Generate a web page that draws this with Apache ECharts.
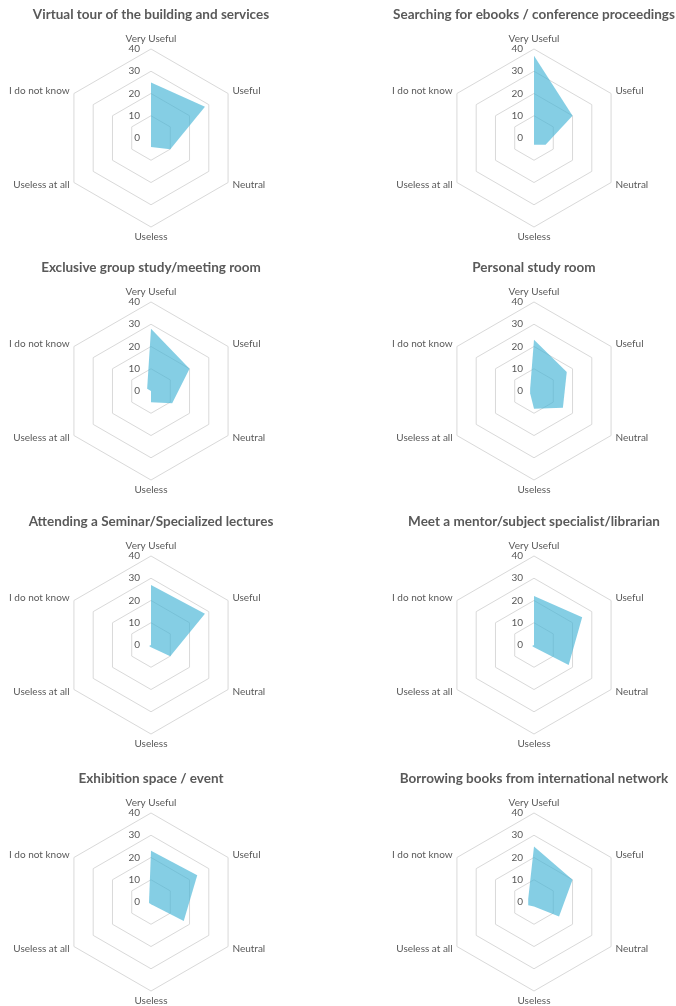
<!DOCTYPE html>
<html><head><meta charset="utf-8">
<script src="https://cdn.jsdelivr.net/npm/echarts@6/dist/echarts.min.js"></script>
<style>html,body{margin:0;padding:0;background:#fff}#c{width:676px;height:1006px}</style>
</head><body><div id="c"></div>
<script>
// Indicator categories, listed clockwise from the top
const categories = ['Very Useful', 'Useful', 'Neutral', 'Useless', 'Useless at all', 'I do not know'];
const tickValues = [0, 10, 20, 30, 40];

const chartTitles = [
  'Virtual tour of the building and services',
  'Searching for ebooks / conference proceedings',
  'Exclusive group study/meeting room',
  'Personal study room',
  'Attending a Seminar/Specialized lectures',
  'Meet a mentor/subject specialist/librarian',
  'Exhibition space / event',
  'Borrowing books from international network'
];

// values in category order
const virtualTour      = [25, 28, 10, 4, 0, 0];
const searchingEbooks  = [37, 20, 6, 3, 0, 0];
const groupStudyRoom   = [28, 20, 11, 5, 0, 2];
const personalStudy    = [23, 17, 15, 8, 2, 2];
const seminarLectures  = [27, 28, 10, 1, 1, 0];
const meetMentor       = [22, 25, 18, 1, 1, 0];
const exhibitionSpace  = [23, 24, 17, 1, 1, 1];
const borrowingBooks   = [25, 20, 13, 2, 3, 3];

const allValues = [virtualTour, searchingEbooks, groupStudyRoom, personalStudy,
                   seminarLectures, meetMentor, exhibitionSpace, borrowingBooks];

// layout
const colX = [151, 534];
const rowY = [138, 391, 645, 902];
const R = 89;
const FONT = 'Lato';
const GREY = '#595959';

// ECharts places indicators counter-clockwise; reorder so that the result runs clockwise
function toCCW(arr) { return [arr[0]].concat(arr.slice(1).reverse()); }

const maxVal = tickValues[tickValues.length - 1];
const radars = [], series = [], titles = [];
allValues.forEach((vals, i) => {
  const cx = colX[i % 2], cy = rowY[Math.floor(i / 2)];
  const ind = toCCW(categories).map((name, k) => {
    const o = { name: name, min: tickValues[0], max: maxVal };
    if (k === 0) o.axisLabel = { show: true };
    return o;
  });
  radars.push({
    center: [cx, cy],
    radius: R,
    startAngle: 90,
    shape: 'polygon',
    splitNumber: tickValues.length - 1,
    indicator: ind,
    axisName: { color: GREY, fontSize: 10, fontFamily: FONT },
    nameGap: 5,
    axisLine: { show: false },
    axisTick: { show: false },
    axisLabel: { show: false, color: GREY, fontSize: 10, fontFamily: FONT, margin: 11 },
    splitLine: { lineStyle: { color: '#d9d9d9', width: 1 } },
    splitArea: { show: false }
  });
  series.push({
    type: 'radar',
    radarIndex: i,
    symbol: 'none',
    silent: true,
    lineStyle: { width: 0 },
    areaStyle: { color: 'rgba(68,180,214,0.65)', opacity: 1 },
    data: [{ value: toCCW(vals), name: chartTitles[i] }]
  });
  titles.push({
    text: chartTitles[i],
    left: cx - 5,
    top: cy - 135,
    textAlign: 'center',
    textStyle: { color: GREY, fontSize: 13.5, fontWeight: 'bold', fontFamily: FONT }
  });
});

const chart = echarts.init(document.getElementById('c'), null, { renderer: 'canvas' });
chart.setOption({
  backgroundColor: '#fff',
  animation: false,
  title: titles,
  radar: radars,
  series: series
});
</script></body></html>
